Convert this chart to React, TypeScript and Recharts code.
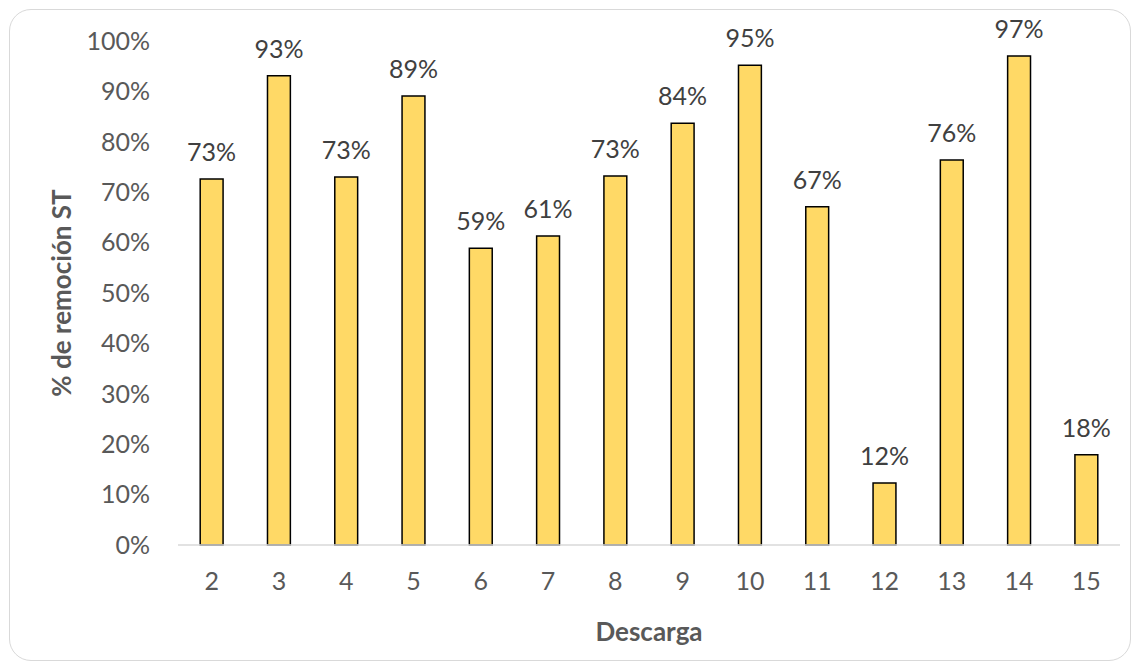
import React from "react";
import { BarChart, Bar, XAxis, YAxis, LabelList } from "recharts";

const descargas = ["2", "3", "4", "5", "6", "7", "8", "9", "10", "11", "12", "13", "14", "15"];
const remocion = [0.726, 0.931, 0.73, 0.891, 0.589, 0.613, 0.732, 0.837, 0.952, 0.671, 0.123, 0.764, 0.97, 0.179];
const yTicks = [0, 0.1, 0.2, 0.3, 0.4, 0.5, 0.6, 0.7, 0.8, 0.9, 1];

const data = descargas.map((d, i) => ({ descarga: d, valor: remocion[i] }));

const FONT = "Lato, 'Open Sans', sans-serif";
const pct = (v: number) => `${Math.round(v * 100)}%`;

export default function App() {
  return (
    <div style={{ position: "absolute", left: 0, top: 0, width: 1138, height: 671, background: "#fff", fontFamily: FONT }}>
      <div
        style={{
          position: "absolute",
          left: 9,
          top: 9,
          width: 1120,
          height: 650,
          border: "1px solid #d9d9d9",
          borderRadius: 22,
        }}
      />
      <BarChart
        width={1138}
        height={671}
        data={data}
        margin={{ top: 41, right: 18, bottom: 0, left: 0 }}
        barCategoryGap="67%"
        style={{ position: "absolute", left: 0, top: 0 }}
      >
        <XAxis
          dataKey="descarga"
          height={126}
          tickLine={false}
          axisLine={{ stroke: "#d9d9d9", strokeWidth: 1.5 }}
          tick={{ fontSize: 25, fill: "#595959", fontFamily: FONT }}
          tickMargin={21}
          label={{ value: "Descarga", position: "insideBottom", offset: 30, fontSize: 26, fontWeight: 700, fill: "#595959", fontFamily: FONT }}
        />
        <YAxis
          width={178}
          domain={[0, 1]}
          ticks={yTicks}
          tickFormatter={pct}
          axisLine={false}
          tickLine={false}
          tickMargin={22}
          tick={{ fontSize: 25, fill: "#595959", fontFamily: FONT }}
          label={{ value: "% de remoción ST", angle: -90, position: "insideLeft", offset: 62, fontSize: 26, fontWeight: 700, fill: "#595959", fontFamily: FONT, style: { textAnchor: "middle" } }}
        />
        <Bar dataKey="valor" fill="#FFD966" stroke="#000" strokeWidth={1.5} isAnimationActive={false}>
          <LabelList dataKey="valor" position="top" offset={18} formatter={(v: any) => pct(Number(v))} style={{ fontSize: 25, fill: "#404040", fontFamily: FONT }} />
        </Bar>
      </BarChart>
    </div>
  );
}
